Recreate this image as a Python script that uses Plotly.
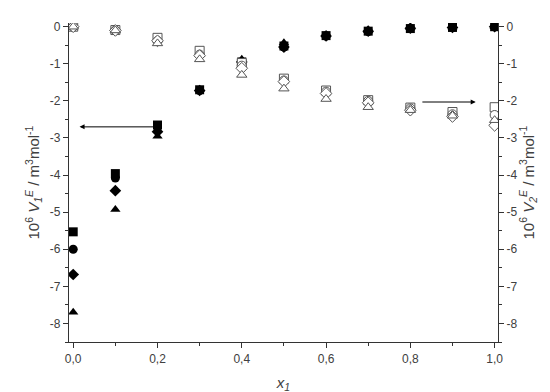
import plotly.graph_objects as go

x1 = [0.0, 0.1, 0.2, 0.3, 0.4, 0.5, 0.6, 0.7, 0.8, 0.9, 1.0]

# V1E (left axis, filled symbols)
v1_square = [-5.53, -3.96, -2.65, -1.70, -0.95, -0.52, -0.24, -0.12, -0.05, -0.02, 0.0]
v1_circle = [-6.00, -4.08, -2.70, -1.72, -0.97, -0.55, -0.25, -0.13, -0.05, -0.02, 0.0]
v1_diamond = [-6.68, -4.42, -2.83, -1.72, -0.95, -0.55, -0.25, -0.12, -0.04, -0.02, 0.0]
v1_triangle = [-7.70, -4.93, -2.95, -1.70, -0.88, -0.43, -0.22, -0.10, -0.03, -0.01, 0.0]

# V2E (right axis, open symbols)
v2_square = [0.0, -0.09, -0.30, -0.65, -0.98, -1.40, -1.72, -1.98, -2.18, -2.30, -2.17]
v2_circle = [0.0, -0.10, -0.38, -0.75, -1.05, -1.45, -1.75, -2.00, -2.20, -2.36, -2.38]
v2_diamond = [0.0, -0.10, -0.38, -0.78, -1.12, -1.48, -1.80, -2.05, -2.25, -2.42, -2.66]
v2_triangle = [0.0, -0.10, -0.45, -0.88, -1.30, -1.67, -1.95, -2.17, -2.25, -2.40, -2.52]

y_ticks = [0, -1, -2, -3, -4, -5, -6, -7, -8]
y_ticktext = ["0", "-1", "-2", "-3", "-4", "-5", "-6", "-7", "-8"]

FONT = "Liberation Sans, Arial, sans-serif"
TXT = "#404040"

fig = go.Figure()

filled = [("square", v1_square), ("circle", v1_circle),
          ("diamond", v1_diamond), ("triangle-up", v1_triangle)]
for sym, ys in filled:
    fig.add_trace(go.Scatter(
        x=x1, y=ys, mode="markers",
        marker=dict(symbol=sym, size=9, color="black", line=dict(width=0)),
        showlegend=False,
    ))

opened = [("square", v2_square), ("circle", v2_circle),
          ("diamond", v2_diamond), ("triangle-up", v2_triangle)]
for sym, ys in opened:
    fig.add_trace(go.Scatter(
        x=x1, y=ys, mode="markers", yaxis="y2",
        marker=dict(symbol=sym, size=9, color="white", line=dict(width=1, color="#555")),
        showlegend=False,
    ))

# arrows pointing to each axis
fig.add_annotation(x=0.015, y=-2.7, ax=0.2, ay=-2.7, xref="x", yref="y", axref="x", ayref="y",
                   text="", showarrow=True, arrowhead=2, arrowsize=1, arrowwidth=1, arrowcolor="black")
fig.add_annotation(x=0.955, y=-2.03, ax=0.825, ay=-2.03, xref="x", yref="y", axref="x", ayref="y",
                   text="", showarrow=True, arrowhead=2, arrowsize=1, arrowwidth=1, arrowcolor="black")

yrange = [-8.5, 0.1]
xrange = [-0.01, 1.008]

fig.update_layout(
    width=550, height=392,
    margin=dict(l=61, r=60, t=15, b=58),
    plot_bgcolor="white", paper_bgcolor="white",
    font=dict(family=FONT, color=TXT, size=12),
    separators=", ",
    xaxis=dict(
        range=xrange, tickvals=[0, 0.2, 0.4, 0.6, 0.8, 1.0], tickformat=".1f",
        ticks="outside", ticklen=5, tickcolor="#333", showgrid=False, zeroline=False,
        showline=True, linecolor="#333", linewidth=1.2,
        minor=dict(tickvals=[0.1, 0.3, 0.5, 0.7, 0.9], ticks="outside", ticklen=3, tickcolor="#333"),
        tickfont=dict(size=12, color=TXT),
        title=dict(text="<i>x</i><sub><i>1</i></sub>", font=dict(size=15, color=TXT), standoff=12),
    ),
    xaxis2=dict(
        range=xrange, overlaying="x", side="top", tickvals=[0, 0.2, 0.4, 0.6, 0.8, 1.0],
        showticklabels=False, ticks="inside", ticklen=5, tickcolor="#333", showgrid=False,
        zeroline=False, showline=True, linecolor="#333", linewidth=1.2,
        minor=dict(tickvals=[0.1, 0.3, 0.5, 0.7, 0.9], ticks="inside", ticklen=3, tickcolor="#333"),
    ),
    yaxis=dict(
        range=yrange, tickvals=y_ticks, ticktext=y_ticktext,
        ticks="outside", ticklen=5, tickcolor="#333", showgrid=False, zeroline=False,
        showline=True, linecolor="#333", linewidth=1.2,
        minor=dict(dtick=0.5, ticks="outside", ticklen=3, tickcolor="#333"),
        tickfont=dict(size=12, color=TXT),
        title=dict(text="10<sup>6</sup> <i>V</i><sub><i>1</i></sub><sup><i>E</i></sup> / m<sup>3</sup>mol<sup>-1</sup>",
                   font=dict(size=15, color=TXT), standoff=6),
    ),
    yaxis2=dict(
        range=yrange, overlaying="y", side="right", tickvals=y_ticks, ticktext=y_ticktext,
        ticks="outside", ticklen=5, tickcolor="#333", showgrid=False, zeroline=False,
        showline=True, linecolor="#333", linewidth=1.2,
        minor=dict(dtick=0.5, ticks="outside", ticklen=3, tickcolor="#333"),
        tickfont=dict(size=12, color=TXT),
        title=dict(text="10<sup>6</sup> <i>V</i><sub><i>2</i></sub><sup><i>E</i></sup> / m<sup>3</sup>mol<sup>-1</sup>",
                   font=dict(size=15, color=TXT), standoff=6),
    ),
)

fig.write_html("out.html")
